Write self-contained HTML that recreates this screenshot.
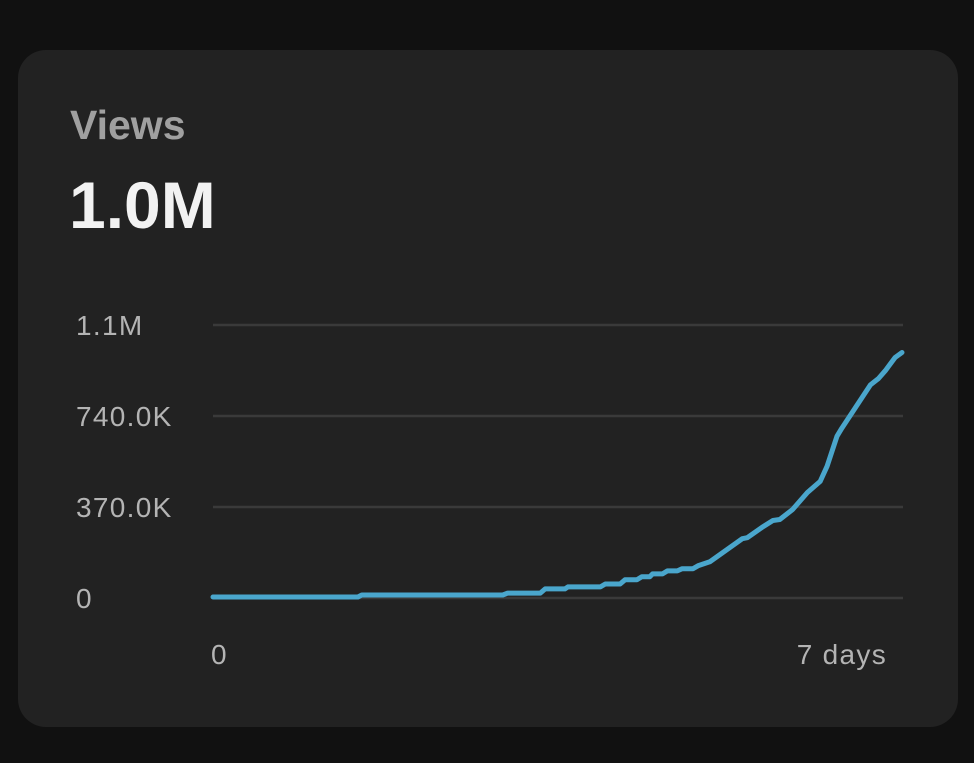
<!DOCTYPE html>
<html><head><meta charset="utf-8"><style>
html,body{margin:0;padding:0;background:#111111;width:974px;height:763px;overflow:hidden;font-family:"Liberation Sans",sans-serif;}
.card{position:absolute;left:18px;top:50px;width:940px;height:677px;background:#222222;border-radius:28px;}
.t{position:absolute;white-space:nowrap;}
</style></head><body>
<div class="card"></div>
<div class="t" style="left:70px;top:101px;font-size:41px;font-weight:bold;color:#a0a0a0;line-height:48px;">Views</div>
<div class="t" style="left:69px;top:167px;font-size:66px;font-weight:bold;color:#f2f2f2;line-height:76px;">1.0M</div>
<svg id="chart" width="974" height="763" style="position:absolute;left:0;top:0;"></svg>
<script>
const yTicks=[0,370,740,1110];
const yTickLabels=["0","370.0K","740.0K","1.1M"];
const xTickValues=[0,7];
const xTickLabels=["0","7 days"];
const days=[0,1.47,1.51,2.94,2.99,3.32,3.37,3.57,3.60,3.93,3.98,4.13,4.18,4.30,4.35,4.43,4.46,4.56,4.61,4.71,4.76,4.87,4.92,5.04,5.37,5.42,5.58,5.68,5.75,5.88,6.03,6.16,6.23,6.33,6.38,6.67,6.75,6.82,6.92,6.99];
const viewsK=[4,4,12,12,20,20,37,37,45,45,57,57,74,74,86,86,98,98,110,110,119,119,131,147,241,245,290,315,319,360,429,474,536,658,691,867,892,924,978,998];
const NS="http://www.w3.org/2000/svg";
const svg=document.getElementById('chart');
const X0=213,X1=903,Y0=598,Y1=325;
const xs=d=>X0+(d/7)*(X1-X0);
const ys=v=>Y0-(v/1110)*(Y0-Y1);
function mk(t,a){const e=document.createElementNS(NS,t);for(const k in a)e.setAttribute(k,a[k]);svg.appendChild(e);return e;}
yTicks.forEach((v,i)=>{
 const l=mk('line',{x1:X0,x2:X1,y1:ys(v),y2:ys(v),stroke:'#3a3a3a','stroke-width':2.5});
 
 
 const t=mk('text',{x:76,y:ys(v)+10,fill:'#b4b4b4','font-size':28,'letter-spacing':1.3,'font-family':'Liberation Sans, sans-serif'});
 t.textContent=yTickLabels[i];
 
 
});
xTickValues.forEach((d,i)=>{
 const t=mk('text',{x:i===0?xs(d)-2:887,y:664,fill:'#b4b4b4','font-size':28,'letter-spacing':1.3,'font-family':'Liberation Sans, sans-serif','text-anchor':i===0?'start':'end'});
 t.textContent=xTickLabels[i];
 
 
});
const p=mk('path',{d:days.map((d,i)=>(i?'L':'M')+xs(d).toFixed(1)+' '+ys(viewsK[i]).toFixed(1)).join(' '),fill:'none',stroke:'#4aa6cc','stroke-width':5,'stroke-linejoin':'round','stroke-linecap':'round'});


</script>
</body></html>
